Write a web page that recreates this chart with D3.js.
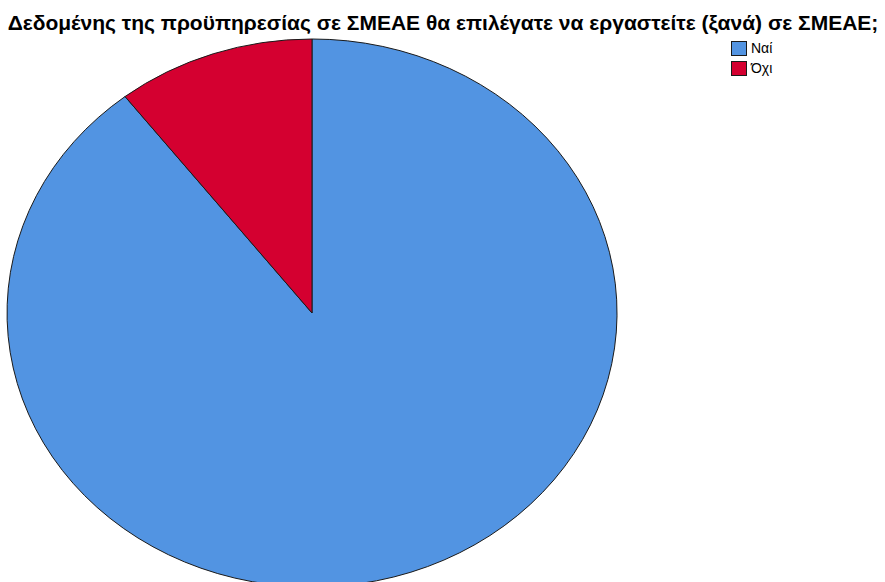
<!DOCTYPE html>
<html>
<head>
<meta charset="utf-8">
<script src="https://cdn.jsdelivr.net/npm/d3@7"></script>
<style>
  html, body { margin: 0; padding: 0; background: #fff; }
  svg { display: block; }
</style>
</head>
<body>
<svg id="chart" width="885" height="582"></svg>
<script>
// Answers and their shares (percent)
const categories = ["Ναί", "Όχι"];
const values = [89.5, 10.5];
const colors = ["#5294e2", "#d40030"];
const titleText = "Δεδομένης της προϋπηρεσίας σε ΣΜΕΑΕ θα επιλέγατε να εργαστείτε (ξανά) σε ΣΜΕΑΕ;";

const svg = d3.select("#chart");
const W = 885, H = 582;

// Title
svg.append("text")
  .attr("x", 443)
  .attr("y", 30)
  .attr("text-anchor", "middle")
  .attr("font-family", "'Liberation Sans', Arial, sans-serif")
  .attr("font-weight", "bold")
  .attr("font-size", 21)
  .attr("fill", "#000")
  .text(titleText);

// Pie, drawn on a unit circle and stretched into an ellipse
const cx = 312, cy = 313, rx = 305, ry = 274;
const data = categories.map((c, i) => ({ cat: c, value: values[i], color: colors[i] }));

// Slices run clockwise from 12 o'clock, so the last one ends just left of the top
const pie = d3.pie()
  .value(d => d.value)
  .sort(null);

const arc = d3.arc().innerRadius(0).outerRadius(1);

const g = svg.append("g")
  .attr("transform", `translate(${cx},${cy}) scale(${rx},${ry})`);

g.selectAll("path")
  .data(pie(data))
  .join("path")
  .attr("d", arc)
  .attr("fill", d => d.data.color)
  .attr("stroke", "#1a1a1a")
  .attr("stroke-width", 1)
  .attr("vector-effect", "non-scaling-stroke")
  .attr("stroke-linejoin", "round");

// Legend
const legend = svg.append("g").attr("transform", "translate(731,41)");
const item = legend.selectAll("g")
  .data(data)
  .join("g")
  .attr("transform", (d, i) => `translate(0,${i * 20})`);

item.append("rect")
  .attr("x", 0.5).attr("y", 0.5)
  .attr("width", 15).attr("height", 14)
  .attr("fill", d => d.color)
  .attr("stroke", "#1a1a1a")
  .attr("stroke-width", 1);

item.append("text")
  .attr("x", 20)
  .attr("y", 12)
  .attr("font-family", "'Liberation Sans', Arial, sans-serif")
  .attr("font-size", 14)
  .attr("fill", "#000")
  .text(d => d.cat);
</script>
</body>
</html>
